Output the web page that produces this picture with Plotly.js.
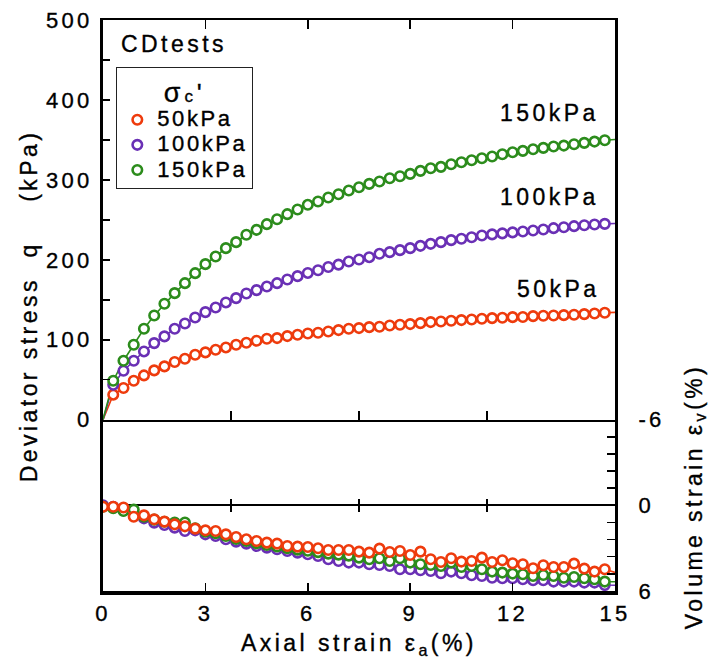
<!DOCTYPE html>
<html><head><meta charset="utf-8">
<script src="https://cdn.plot.ly/plotly-3.0.1.min.js"></script>
<style>
html,body{margin:0;padding:0;background:#fff}
svg text{letter-spacing:0.15em;stroke:#000;stroke-width:0.35px}
</style></head>
<body><div id="chart" style="width:709px;height:662px"></div>
<script>
// ---- data ----
const seriesNames = ['50kPa', '100kPa', '150kPa'];
const seriesColors = ['#ee3b0d', '#6a30b5', '#2c8c1c'];

// deviator stress q (kPa) vs axial strain (%)
const strainQ = [0.3,0.6,0.9,1.2,1.5,1.8,2.1,2.4,2.7,3.0,3.3,3.6,3.9,4.2,4.5,4.8,5.1,5.4,5.7,6.0,6.3,6.6,6.9,7.2,7.5,7.8,8.1,8.4,8.7,9.0,9.3,9.6,9.9,10.2,10.5,10.8,11.1,11.4,11.7,12.0,12.3,12.6,12.9,13.2,13.5,13.8,14.1,14.4,14.7];
const q50 = [31.3,39.6,48.8,55.4,61.7,66.7,72.1,76.3,81.3,84.2,87.5,90.4,93.8,96.3,98.8,101.3,102.1,104.6,106.3,107.9,108.8,110.4,112.1,113.8,114.6,115.8,116.3,117.9,118.8,119.6,120.8,122.1,122.9,123.8,124.6,125.4,126.3,127.1,127.6,128.3,128.5,129.6,130,130.4,130.8,131.3,132.1,132.9,133.8];
const q100 = [43.8,61.3,73.8,85.4,95.8,104.2,113.8,120.4,127.9,134.6,140.4,146.7,152.1,157.9,162.1,166.7,170.8,175.4,179.6,183.6,187.0,191.0,194.0,197.9,200.4,203.3,207.5,209.6,212.1,214.6,217.5,220,222.1,224.6,226.3,228.3,230.4,231.8,233.1,234.3,235.4,236.7,237.9,239.6,240.8,242.1,243.3,244.2,245];
const q150 = [48.8,73.8,93.8,113.8,130.4,145,158.3,170.8,183.3,194.6,204.2,214.6,222.1,231.3,237.5,244.6,250.8,257.1,262.9,268.8,272.9,277.9,282.1,286.7,290.8,295,297.9,302.1,304.6,307.5,311.3,314.6,316.3,319.6,322.1,324.6,327.1,329.2,332.1,334.6,336.3,338.3,340,341.7,342.9,344.6,346.3,347.9,349.6];
const qStart = [0, 0];          // curve origin (strain, q)
const qEnd = [15, [134.3, 245.5, 350.5]]; // curve end at 15 %

// volume strain (%) vs axial strain (%)
const strainV = [0,0.3,0.6,0.9,1.2,1.5,1.8,2.1,2.4,2.7,3.0,3.3,3.6,3.9,4.2,4.5,4.8,5.1,5.4,5.7,6.0,6.3,6.6,6.9,7.2,7.5,7.8,8.1,8.4,8.7,9.0,9.3,9.6,9.9,10.2,10.5,10.8,11.1,11.4,11.7,12.0,12.3,12.6,12.9,13.2,13.5,13.8,14.1,14.4,14.7];
const ev50 = [0.1,0.1,0.15,0.8,0.7,0.98,1.14,1.33,1.47,1.63,1.75,1.8,2.03,2.22,2.38,2.5,2.61,2.68,2.85,2.89,2.92,3.01,3.13,3.13,3.13,3.24,3.31,3.03,3.27,3.2,3.48,3.24,3.78,3.97,3.71,3.94,3.9,3.66,3.97,3.85,4.06,4.13,4.41,4.2,4.32,4.32,4.08,4.43,4.64,4.48];
const ev100 = [0.0,0.1,0.35,0.6,0.91,1.21,1.38,1.56,1.8,1.75,2.03,2.15,2.38,2.54,2.68,2.85,2.96,3.08,3.2,3.31,3.43,3.55,3.78,3.9,4.01,4.01,4.13,4.18,4.25,4.48,4.48,4.55,4.6,4.76,4.64,4.76,4.9,4.95,5.07,5.11,5.11,5.18,5.25,5.25,5.34,5.34,5.34,5.41,5.41,5.58];
const ev150 = [0.1,0.2,0.4,0.3,0.8,1.0,1.15,1.2,1.2,1.6,1.85,1.95,2.15,2.35,2.5,2.65,2.78,2.88,3.0,3.1,3.18,3.28,3.38,3.45,3.52,3.66,3.78,3.71,3.9,3.71,4.01,4.13,4.18,4.25,4.01,4.32,4.25,4.48,4.64,4.71,4.78,4.83,4.95,4.88,4.95,5.07,5.02,5.11,5.18,5.34];
const evEnd = [15, [4.7, 5.6, 5.35]];

const xTicks = [0, 3, 6, 9, 12, 15];
const qTicks = [0, 100, 200, 300, 400, 500];
const evTicks = [-6, 0, 6];
const evTickText = ['-6', '0', '6'];

// ---- build ----
const FONT = 'Liberation Sans, Arial, Helvetica, sans-serif';
const qSets = [q50, q100, q150];
const evSets = [ev50, ev100, ev150];
const traces = [];
// upper panel lines
qSets.forEach((q, i) => {
  traces.push({x: [qStart[0]].concat(strainQ, [qEnd[0]]), y: [qStart[1]].concat(q, [qEnd[1][i]]),
    xaxis: 'x2', yaxis: 'y2', mode: 'lines', line: {color: seriesColors[i], width: 1.6},
    showlegend: false, hoverinfo: 'skip'});
});
// upper panel markers (legend entries)
qSets.forEach((q, i) => {
  traces.push({x: strainQ, y: q, xaxis: 'x2', yaxis: 'y2', mode: 'markers',
    name: '<span style="font-size:22px">' + seriesNames[i] + '</span>',
    marker: {symbol: 'circle', size: 9.5, color: '#ffffff', line: {color: seriesColors[i], width: 2.6}}});
});
// lower panel: draw 100 & 150 first, 50 on top
[1, 2, 0].forEach(i => {
  traces.push({x: strainV.concat([evEnd[0]]), y: evSets[i].concat([evEnd[1][i]]),
    xaxis: 'x', yaxis: 'y', mode: 'lines', line: {color: seriesColors[i], width: 1.6},
    showlegend: false, hoverinfo: 'skip'});
  traces.push({x: strainV, y: evSets[i], xaxis: 'x', yaxis: 'y', mode: 'markers',
    marker: {symbol: 'circle', size: 9.5, color: '#ffffff', line: {color: seriesColors[i], width: 2.6}},
    showlegend: false});
});
// helper (empty) traces so the auxiliary tick axes get drawn
['x3', 'x4', 'x5'].forEach(ax => {
  traces.push({x: [], y: [], xaxis: ax, yaxis: ax === 'x3' ? 'y2' : 'y', mode: 'markers',
    showlegend: false, hoverinfo: 'skip'});
});

const split = 0.3;
const baseX = {range: [0, 15], showgrid: false, zeroline: false, color: '#000'};
const layout = {
  width: 709, height: 662,
  margin: {l: 103, r: 94, t: 20, b: 71},
  paper_bgcolor: '#fff', plot_bgcolor: '#fff',
  font: {family: FONT, size: 21, color: '#000'},
  showlegend: true,
  legend: {x: 0.026, y: 0.917, xanchor: 'left', yanchor: 'top',
    bgcolor: '#fff', bordercolor: '#222', borderwidth: 1,
    font: {family: FONT, size: 17, color: '#000'},
    title: {text: '<span style="font-size:27px">σ</span><span style="font-size:17px">c</span>\'', side: 'top center', font: {family: FONT, size: 26}}},
  xaxis: Object.assign({}, baseX, {anchor: 'y', domain: [0, 1],
    tickmode: 'array', tickvals: xTicks, ticks: 'inside', ticklen: 8, tickwidth: 1.5, tickcolor: '#000',
    showline: true, linewidth: 3.5, linecolor: '#000', ticklabelstandoff: 0,
    tickfont: {family: FONT, size: 22}}),
  xaxis2: Object.assign({}, baseX, {anchor: 'y2', domain: [0, 1],
    tickmode: 'array', tickvals: [3.75, 7.5, 11.25], ticks: 'inside', ticklen: 9, tickwidth: 1.5, tickcolor: '#000',
    showticklabels: false, showline: true, linewidth: 2.2, linecolor: '#000'}),
  xaxis3: Object.assign({}, baseX, {anchor: 'y2', overlaying: 'x2', side: 'top',
    tickmode: 'array', tickvals: [3, 6, 9, 12], ticks: 'inside', ticklen: 9, tickwidth: 1.5, tickcolor: '#000',
    showticklabels: false, showline: true, linewidth: 2.5, linecolor: '#000'}),
  xaxis4: Object.assign({}, baseX, {anchor: 'free', overlaying: 'x', position: split / 2,
    tickmode: 'array', tickvals: [3.75, 7.5, 11.25], ticks: 'outside', ticklen: 6, tickwidth: 1.5, tickcolor: '#000',
    showticklabels: false, showline: false}),
  xaxis5: Object.assign({}, baseX, {anchor: 'free', overlaying: 'x', position: split / 2,
    tickmode: 'array', tickvals: [3.75, 7.5, 11.25], ticks: 'inside', ticklen: 6, tickwidth: 1.5, tickcolor: '#000',
    showticklabels: false, showline: false}),
  yaxis: {anchor: 'x', domain: [0, split], range: [6, -6], side: 'right',
    showgrid: false, zeroline: true, zerolinecolor: '#000', zerolinewidth: 1.8,
    tickmode: 'array', tickvals: evTicks, ticktext: evTickText, ticks: 'inside', ticklen: 8, tickwidth: 1.5, tickcolor: '#000',
    minor: {dtick: 1.2, tick0: 0, ticks: 'inside', ticklen: 8, tickwidth: 1.5, tickcolor: '#000', showgrid: false},
    showline: true, mirror: true, linewidth: 3, linecolor: '#000', ticklabelstandoff: 16,
    tickfont: {family: FONT, size: 22}},
  yaxis2: {anchor: 'x2', domain: [split, 1], range: [0, 500], side: 'left',
    showgrid: false, zeroline: false,
    tickmode: 'array', tickvals: qTicks, ticks: 'inside', ticklen: 7, tickwidth: 1.5, tickcolor: '#000',
    minor: {dtick: 50, tick0: 0, ticks: 'inside', ticklen: 7, tickwidth: 1.5, tickcolor: '#000', showgrid: false},
    showline: true, mirror: true, linewidth: 3, linecolor: '#000', ticklabelstandoff: 3,
    tickfont: {family: FONT, size: 22}},
  annotations: [
    {text: 'CDtests', xref: 'paper', yref: 'paper', x: 0.031, y: 0.958, xanchor: 'left', yanchor: 'middle',
      showarrow: false, font: {family: FONT, size: 23}},
    {text: seriesNames[2], xref: 'x2', yref: 'y2', x: 14.6, y: 384, xanchor: 'right', yanchor: 'middle',
      showarrow: false, font: {family: FONT, size: 23}},
    {text: seriesNames[1], xref: 'x2', yref: 'y2', x: 14.6, y: 279, xanchor: 'right', yanchor: 'middle',
      showarrow: false, font: {family: FONT, size: 23}},
    {text: seriesNames[0], xref: 'x2', yref: 'y2', x: 14.6, y: 163, xanchor: 'right', yanchor: 'middle',
      showarrow: false, font: {family: FONT, size: 23}},
    {text: 'Deviator stress\u00a0\u00a0q\u00a0\u00a0\u00a0\u00a0(kPa)', xref: 'paper', yref: 'paper', x: -0.145, y: 0.50,
      xanchor: 'center', yanchor: 'middle', textangle: -90, showarrow: false, font: {family: FONT, size: 23}},
    {text: 'Volume strain ε<sub>v</sub>(%)', xref: 'paper', yref: 'paper', x: 1.157, y: 0.165,
      xanchor: 'center', yanchor: 'middle', textangle: -90, showarrow: false, font: {family: FONT, size: 23}},
    {text: 'Axial strain ε<sub>a</sub>(%)', xref: 'paper', yref: 'paper', x: 0.5, y: -0.094,
      xanchor: 'center', yanchor: 'middle', showarrow: false, font: {family: FONT, size: 23}}
  ]
};

Plotly.newPlot('chart', traces, layout, {displayModeBar: false, staticPlot: true});
</script>
</body></html>
